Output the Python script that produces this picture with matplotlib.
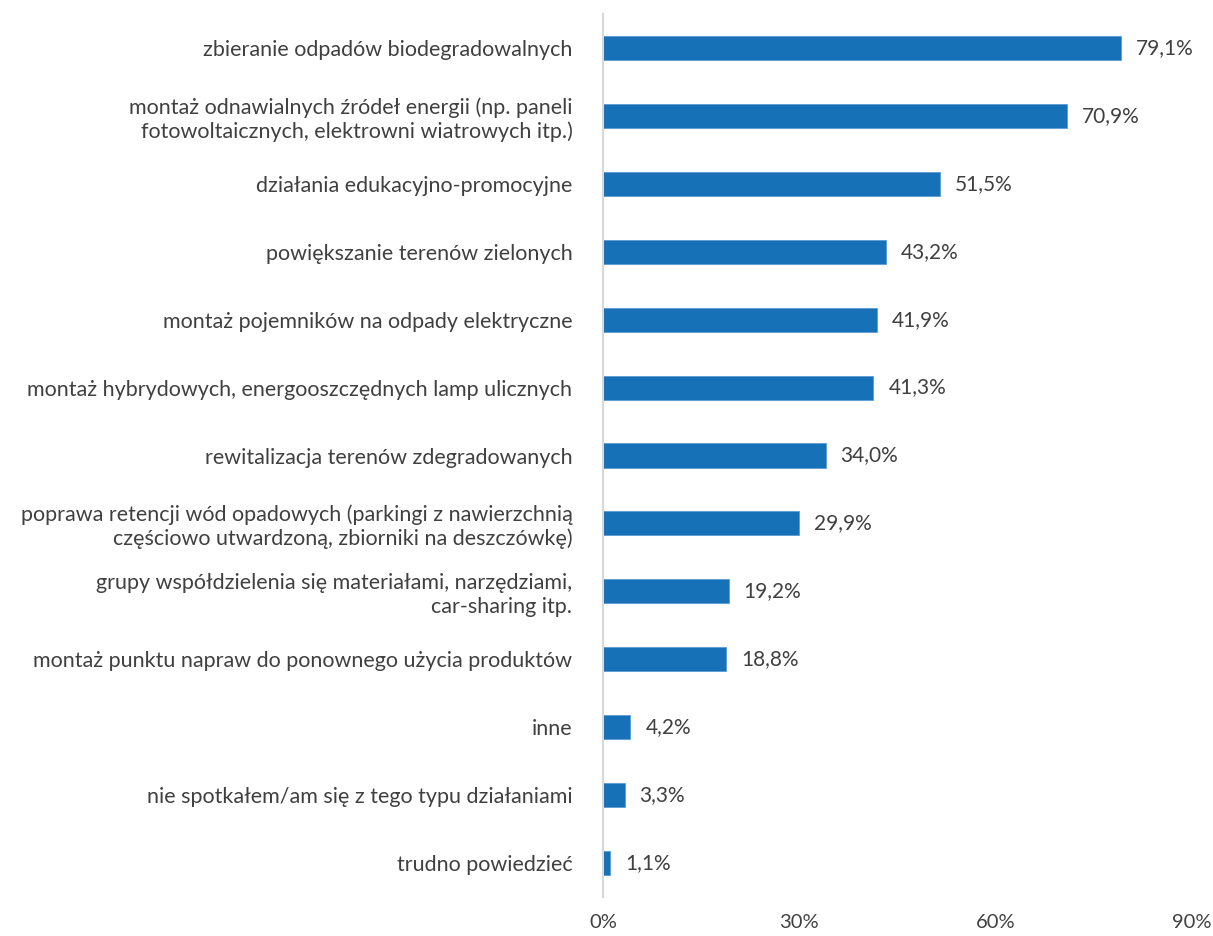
import matplotlib
matplotlib.use("Agg")
import matplotlib.pyplot as plt

categories = [
    "zbieranie odpadów biodegradowalnych",
    "montaż odnawialnych źródeł energii (np. paneli\nfotowoltaicznych, elektrowni wiatrowych itp.)",
    "działania edukacyjno-promocyjne",
    "powiększanie terenów zielonych",
    "montaż pojemników na odpady elektryczne",
    "montaż hybrydowych, energooszczędnych lamp ulicznych",
    "rewitalizacja terenów zdegradowanych",
    "poprawa retencji wód opadowych (parkingi z nawierzchnią\nczęściowo utwardzoną, zbiorniki na deszczówkę)",
    "grupy współdzielenia się materiałami, narzędziami,\ncar-sharing itp.",
    "montaż punktu napraw do ponownego użycia produktów",
    "inne",
    "nie spotkałem/am się z tego typu działaniami",
    "trudno powiedzieć",
]
values = [79.1, 70.9, 51.5, 43.2, 41.9, 41.3, 34.0, 29.9, 19.2, 18.8, 4.2, 3.3, 1.1]
x_ticks = [0, 30, 60, 90]

plt.rcParams["font.family"] = ["Lato", "DejaVu Sans"]
text_color = "#404040"
bar_color = "#1771B6"

fig = plt.figure(figsize=(12.13, 9.36), dpi=100)
ax = fig.add_axes([603 / 1213, 1 - 897 / 936, (1192 - 603) / 1213, (897 - 14) / 936])

y = list(range(len(categories)))
ax.barh(y, values, height=0.355, color=bar_color, edgecolor="#5B9BD5", linewidth=0.6)
ax.set_ylim(len(categories) - 0.5, -0.5)
ax.set_xlim(0, 90)

for yi, v in zip(y, values):
    ax.text(v + 2.3, yi, f"{v:.1f}%".replace(".", ","), va="center", ha="left",
            fontsize=15, color=text_color)

ax.set_yticks(y)
ax.set_yticklabels(categories, fontsize=15.5, color=text_color, ha="right",
                   multialignment="right", linespacing=1.2)
ax.tick_params(axis="y", length=0, pad=22)
ax.set_xticks(x_ticks)
ax.set_xticklabels([f"{t}%" for t in x_ticks], fontsize=14.5, color=text_color)
ax.tick_params(axis="x", length=0, pad=12)

for s in ["top", "right", "bottom"]:
    ax.spines[s].set_visible(False)
ax.spines["left"].set_color("#D9D9D9")
ax.spines["left"].set_linewidth(1.5)

fig.savefig("out.png", dpi=100, facecolor="white")
